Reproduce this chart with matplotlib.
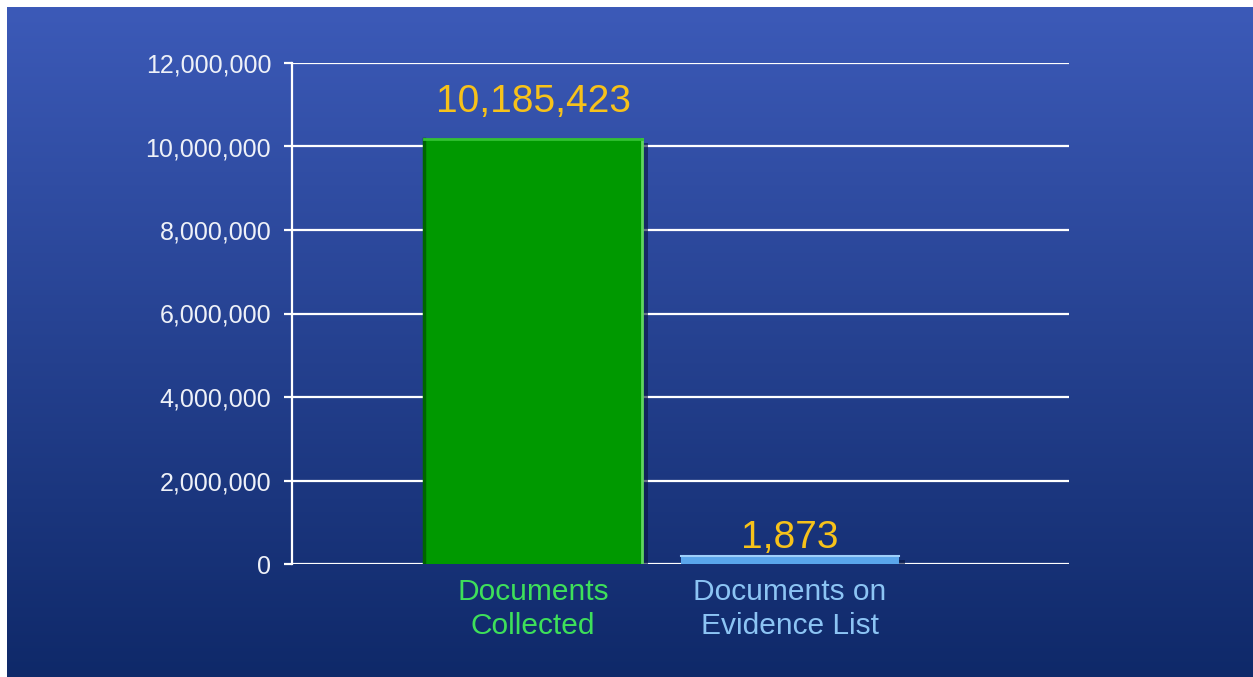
import numpy as np
import matplotlib.pyplot as plt
import matplotlib.patheffects as pe
from matplotlib.ticker import FuncFormatter

# chart values
categories = ['Documents\nCollected', 'Documents on\nEvidence List']
counts = [10185423, 1873]
value_labels = ['10,185,423', '1,873']
y_ticks = [0, 2000000, 4000000, 6000000, 8000000, 10000000, 12000000]

bar_colors = ['#009900', '#5aa6ec']
cat_colors = ['#3ee05a', '#8cc4f4']
label_color = '#f7c21a'

plt.rcParams['font.family'] = ['Liberation Sans', 'DejaVu Sans']

fig = plt.figure(figsize=(12.53, 6.77), dpi=100, facecolor='white')

# gradient background, with a white strip on top and left like the slide capture
bg = fig.add_axes([7 / 1253, 0, 1 - 8 / 1253, 670 / 677])
top = np.array([0x3c, 0x5a, 0xb8]) / 255
bottom = np.array([0x0f, 0x29, 0x69]) / 255
t = np.linspace(0, 1, 256)[:, None]
grad = top[None, :] * (1 - t) + bottom[None, :] * t
bg.imshow(grad[:, None, :], aspect='auto', extent=[0, 1, 0, 1])
bg.axis('off')

ax = fig.add_axes([292 / 1253, 113 / 677, 777 / 1253, 501 / 677])
ax.patch.set_alpha(0)

# the tiny bar gets a minimum visible height, as in the original slide
floor = 190000
heights = [max(c, floor) for c in counts]
x = np.arange(len(categories))
bars = ax.bar(x, heights, width=0.85, color=bar_colors, zorder=3)
for b in bars:
    b.set_path_effects([pe.SimplePatchShadow(offset=(4, -3), shadow_rgbFace='#081640', alpha=0.6),
                        pe.Normal()])
# bevel edges on the green bar
g = bars[0]
ax.plot([g.get_x(), g.get_x()], [0, g.get_height()], color='#006400', lw=2.5, zorder=4)
ax.plot([g.get_x() + g.get_width()] * 2, [0, g.get_height()], color='#5fd65f', lw=2, zorder=4)
ax.plot([g.get_x(), g.get_x() + g.get_width()], [g.get_height()] * 2, color='#33c233', lw=2, zorder=4)
bl = bars[1]
ax.plot([bl.get_x(), bl.get_x() + bl.get_width()], [bl.get_height()] * 2, color='#9fd0fb', lw=1.5, zorder=4)

for xi, h, txt, off in zip(x, heights, value_labels, [27, 8]):
    ax.annotate(txt, (xi, h), xytext=(0, off), textcoords='offset pixels',
                ha='center', va='baseline', color=label_color, fontsize=28)

ax.set_xlim(-0.938, 2.086)
ax.set_ylim(0, 12000000)
ax.set_yticks(y_ticks)
ax.yaxis.set_major_formatter(FuncFormatter(lambda v, p: f'{int(v):,}'))
ax.set_xticks(x)
ax.set_xticklabels(categories, fontsize=21.5, linespacing=1.3)
for lab, c in zip(ax.get_xticklabels(), cat_colors):
    lab.set_color(c)

ax.grid(axis='y', color='white', lw=1.6, zorder=1)
ax.tick_params(axis='y', colors='white', labelcolor='#eef1f8', labelsize=18,
               length=6, width=1.6, pad=9)
ax.tick_params(axis='x', length=0, pad=10)
for s in ['top', 'right', 'bottom']:
    ax.spines[s].set_visible(False)
ax.spines['left'].set_color('white')
ax.spines['left'].set_linewidth(1.6)

fig.savefig('out.png', dpi=100, facecolor=fig.get_facecolor())
